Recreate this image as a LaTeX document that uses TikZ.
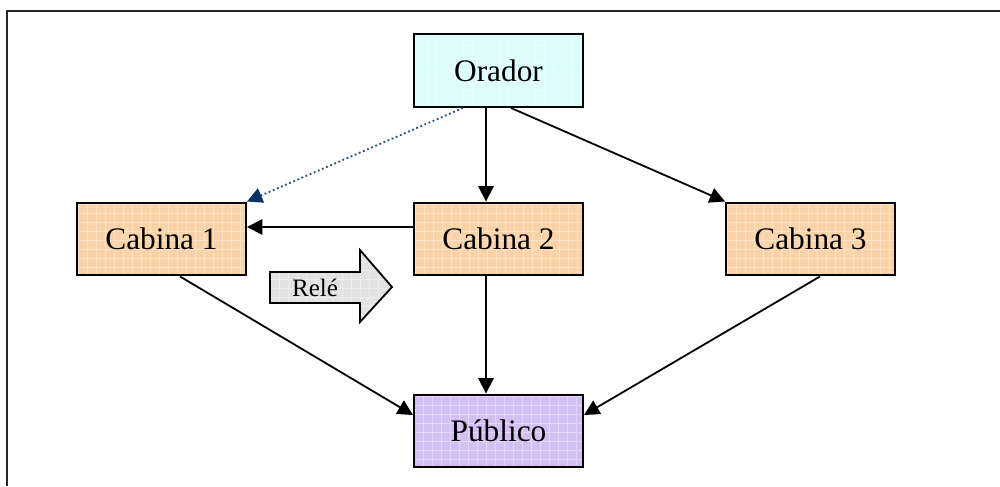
\documentclass[tikz,border=0pt]{standalone}
\usepackage{fontspec}
\setmainfont{Liberation Serif}
\usetikzlibrary{arrows.meta,calc}

\definecolor{speakerfill}{HTML}{DDFCFC}
\definecolor{boothfill}{HTML}{FBD3A8}
\definecolor{audiencefill}{HTML}{D3BFF2}
\definecolor{relayfill}{HTML}{E2E2E2}
\definecolor{relayline}{HTML}{1F4E79}
\definecolor{relayhead}{HTML}{0B3366}

\tikzset{
  % fine woven texture laid over the box fills
  weave/.style={path picture={
      \draw[white, opacity=0.35, line width=0.6pt, step=6.75pt]
        (path picture bounding box.south west)
        grid (path picture bounding box.north east);}},
  box/.style={draw=black, line width=1.7pt, minimum width=126.5pt,
    minimum height=54.5pt, inner sep=0pt, weave,
    font=\fontsize{23.5}{26}\selectfont},
  link/.style={line width=1.35pt, -{Triangle[length=11.5pt,width=11.5pt]}},
  hint/.style={line width=1.35pt, relayline, dotted,
    -{Triangle[length=11.5pt,width=11.5pt,fill=relayhead,color=relayhead]}},
  frame/.style={draw=black!85, line width=1.5pt},
}

\begin{document}
\begin{tikzpicture}[x=0.75pt,y=-0.75pt]
  \useasboundingbox (0,0) rectangle (1000,486);

  % page frame (top and left edges)
  \draw[frame] (6.5,486) -- (6.5,10.5) -- (1000,10.5);

  % nodes
  \node[box, fill=speakerfill]  (orador)  at (498.5,70.5) {Orador};
  \node[box, fill=boothfill]    (cab1)    at (161.5,239)  {Cabina 1};
  \node[box, fill=boothfill]    (cab2)    at (498.5,239)  {Cabina 2};
  \node[box, fill=boothfill]    (cab3)    at (810.5,239)  {Cabina 3};
  \node[box, fill=audiencefill] (publico) at (498.5,431)  {Público};

  % helper coordinates for off-centre connector ends
  \coordinate (mid)   at (486,0);
  \coordinate (sL)    at (463,0);
  \coordinate (sR)    at (511,0);
  \coordinate (c1out) at (180,0);
  \coordinate (c3out) at (820,0);
  \coordinate (pin)   at (0,415);

  % connectors
  \draw[link] (orador.south -| mid) -- (cab2.north -| mid);
  \draw[link] (orador.south -| sR) -- (cab3.north west);
  \draw[hint] (orador.south -| sL) -- (cab1.north east);
  \draw[link] (cab2.west |- 0,227) -- (cab1.east |- 0,227);
  \draw[link] (cab2.south -| mid) -- (publico.north -| mid);
  \draw[link] (cab1.south -| c1out) -- (publico.west |- pin);
  \draw[link] (cab3.south -| c3out) -- (publico.east |- pin);

  % relay arrow
  \draw[line width=1.35pt, fill=relayfill, weave]
    (270,272) -- (360,272) -- (360,250) -- (392,287) -- (360,322)
    -- (360,303) -- (270,303) -- cycle;
  \node[font=\fontsize{18.8}{21}\selectfont] (rele) at (315,288) {Relé};
\end{tikzpicture}
\end{document}
